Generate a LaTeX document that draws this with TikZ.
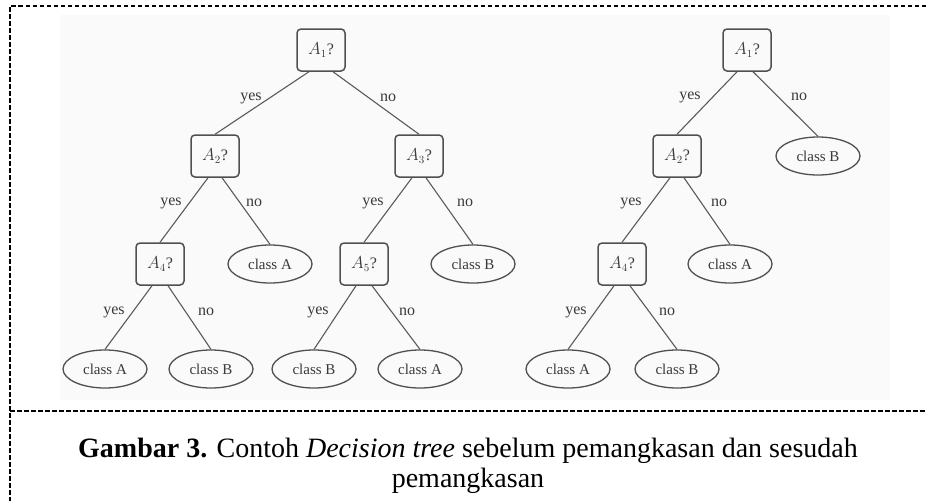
\documentclass[tikz,border=0pt]{standalone}
\usepackage{fontspec}
\setmainfont{Liberation Serif}
\usetikzlibrary{shapes.geometric}
\definecolor{treeline}{HTML}{505050}
\definecolor{edgeline}{HTML}{5A5A5A}
\definecolor{treetext}{HTML}{3A3A3A}
\definecolor{photobg}{HTML}{FAFAFA}
\begin{document}
\begin{tikzpicture}[x=1pt,y=-1pt,
  qbox/.style={draw=treeline, line width=1.5pt, rounded corners=4pt, minimum width=48pt, minimum height=42pt, inner sep=0pt, font=\fontsize{16}{16}\selectfont, text=treetext},
  leaf/.style={draw=treeline, line width=1.3pt, ellipse, minimum width=84pt, minimum height=38pt, inner sep=0pt, font=\fontsize{15}{15}\selectfont, text=treetext},
  treeedge/.style={draw=edgeline, line width=1.1pt},
  lab/.style={font=\fontsize{16}{16}\selectfont, text=treetext, inner sep=0pt},
  framedash/.style={line width=1.6pt, dash pattern=on 4.5pt off 2.5pt},
  capfont/.style={font=\fontsize{28}{32}\selectfont, inner sep=0pt, anchor=base}
]
\useasboundingbox (0,0) rectangle (926,501);
\fill[photobg] (60,15) rectangle (890,400);
% frame
\draw[framedash] (926,6) -- (10,6) -- (10,501);
\draw[framedash] (10,411) -- (926,411);

% left tree
\node[qbox] (L1) at (321,50) {$A_1$?};
\node[qbox] (L2) at (215,156) {$A_2$?};
\node[qbox] (L3) at (419,156) {$A_3$?};
\node[qbox] (L4) at (160,264) {$A_4$?};
\node[leaf] (L2n) at (270,264) {class A};
\node[qbox] (L5) at (364,264) {$A_5$?};
\node[leaf] (L3n) at (473,264) {class B};
\node[leaf] (L4y) at (105,369) {class A};
\node[leaf] (L4n) at (211,369) {class B};
\node[leaf] (L5y) at (314,369) {class B};
\node[leaf] (L5n) at (420,369) {class A};

\draw[treeedge] ([xshift=-12pt]L1.south) -- (L2.north);
\draw[treeedge] ([xshift=12pt]L1.south) -- (L3.north);
\draw[treeedge] ([xshift=-7pt]L2.south) -- (L4.north);
\draw[treeedge] ([xshift=7pt]L2.south) -- (L2n.north);
\draw[treeedge] ([xshift=-7pt]L3.south) -- (L5.north);
\draw[treeedge] ([xshift=7pt]L3.south) -- (L3n.north);
\draw[treeedge] ([xshift=-8pt]L4.south) -- (L4y.north);
\draw[treeedge] ([xshift=8pt]L4.south) -- (L4n.north);
\draw[treeedge] ([xshift=-8pt]L5.south) -- (L5y.north);
\draw[treeedge] ([xshift=8pt]L5.south) -- (L5n.north);

\node[lab] (ly1) at (251,98) {yes};
\node[lab] (ln1) at (388,98) {no};
\node[lab] (ly2) at (171,203) {yes};
\node[lab] (ln2) at (254,203) {no};
\node[lab] (ly3) at (373,203) {yes};
\node[lab] (ln3) at (465,203) {no};
\node[lab] (ly4) at (114,312) {yes};
\node[lab] (ln4) at (206,312) {no};
\node[lab] (ly5) at (318,312) {yes};
\node[lab] (ln5) at (407,312) {no};

% right tree
\node[qbox] (R1) at (747,50) {$A_1$?};
\node[qbox] (R2) at (677,156) {$A_2$?};
\node[leaf] (R1n) at (818,156) {class B};
\node[qbox] (R4) at (622,264) {$A_4$?};
\node[leaf] (R2n) at (730,264) {class A};
\node[leaf] (R4y) at (568,369) {class A};
\node[leaf] (R4n) at (677,369) {class B};

\draw[treeedge] ([xshift=-10pt]R1.south) -- (R2.north);
\draw[treeedge] ([xshift=6pt]R1.south) -- (R1n.north);
\draw[treeedge] ([xshift=-7pt]R2.south) -- (R4.north);
\draw[treeedge] ([xshift=7pt]R2.south) -- (R2n.north);
\draw[treeedge] ([xshift=-8pt]R4.south) -- (R4y.north);
\draw[treeedge] ([xshift=8pt]R4.south) -- (R4n.north);

\node[lab] (ry1) at (690,97) {yes};
\node[lab] (rn1) at (799,97) {no};
\node[lab] (ry2) at (631,203) {yes};
\node[lab] (rn2) at (719,203) {no};
\node[lab] (ry3) at (576,312) {yes};
\node[lab] (rn3) at (667,312) {no};

% caption
\node[capfont] (cap1) at (468,457) {\textbf{Gambar 3.} Contoh \textit{Decision tree} sebelum pemangkasan dan sesudah};
\node[capfont] (cap2) at (468,487) {pemangkasan};
\end{tikzpicture}
\end{document}
